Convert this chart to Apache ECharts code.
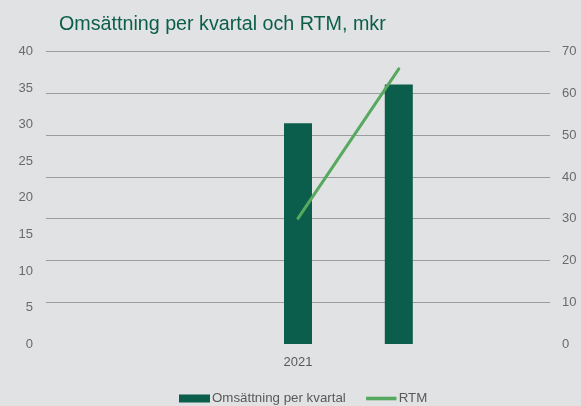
<!DOCTYPE html>
<html>
<head>
<meta charset="utf-8">
<script src="https://cdn.jsdelivr.net/npm/echarts@6/dist/echarts.min.js"></script>
<style>
html,body{margin:0;padding:0;background:#e1e2e3;}
#c{width:581px;height:406px;}
</style>
</head>
<body>
<div id="c"></div>
<script>
const categories = ['', ' ', '2021', '  ', '   '];
const omsattning = [null, null, 30.2, 35.5, null];
const rtm = [null, null, 30.1, 65.9, null];
const leftTicks = [0, 40, 5];
const rightTicks = [0, 70, 10];

const chart = echarts.init(document.getElementById('c'));
const font = '"Liberation Sans", Arial, sans-serif';
chart.setOption({
  backgroundColor: '#e1e2e3',
  animation: false,
  textStyle: {fontFamily: font},
  title: {
    text: 'Omsättning per kvartal och RTM, mkr',
    left: 54, top: 10,
    textStyle: {color: '#0b5e48', fontSize: 19.7, fontWeight: 'normal', fontFamily: font}
  },
  grid: {left: 46, right: 31, top: 51.7, bottom: 62, containLabel: false},
  legend: {
    top: 387, left: 174,
    itemGap: 20, itemWidth: 31, itemHeight: 8,
    textStyle: {color: '#595959', fontSize: 13.3, fontFamily: font, padding: [0,0,0,-3]},
    data: [
      {name: 'Omsättning per kvartal', icon: 'rect'},
      {name: 'RTM', icon: 'path://M0,0L0,0M0.3,2.2L30.7,2.2L30.7,5.8L0.3,5.8ZM31,8L31,8',
       itemStyle: {color: '#57a95f'}}
    ]
  },
  xAxis: {
    type: 'category',
    data: categories,
    axisLine: {show: false},
    axisTick: {show: false},
    axisLabel: {color: '#595959', fontSize: 13, margin: 12, interval: 0}
  },
  yAxis: [
    {
      type: 'value', min: leftTicks[0], max: leftTicks[1], interval: leftTicks[2],
      axisLine: {show: false}, axisTick: {show: false},
      splitLine: {show: false},
      axisLabel: {color: '#6a6a6a', fontSize: 13, margin: 13}
    },
    {
      type: 'value', min: rightTicks[0], max: rightTicks[1], interval: rightTicks[2],
      position: 'right',
      axisLine: {show: false}, axisTick: {show: false},
      splitLine: {show: true, showMinLine: false, lineStyle: {color: '#9c9c9c', width: 1}},
      axisLabel: {color: '#6a6a6a', fontSize: 13, margin: 12}
    }
  ],
  series: [
    {
      name: 'Omsättning per kvartal', type: 'bar', yAxisIndex: 0,
      data: omsattning, barWidth: 28,
      itemStyle: {color: '#0b5e4b'}
    },
    {
      name: 'RTM', type: 'line', yAxisIndex: 1,
      data: rtm, symbol: 'none', connectNulls: true,
      lineStyle: {color: '#57a95f', width: 3, cap: 'round'},
      itemStyle: {color: '#57a95f'}
    }
  ]
});
</script>
</body>
</html>
